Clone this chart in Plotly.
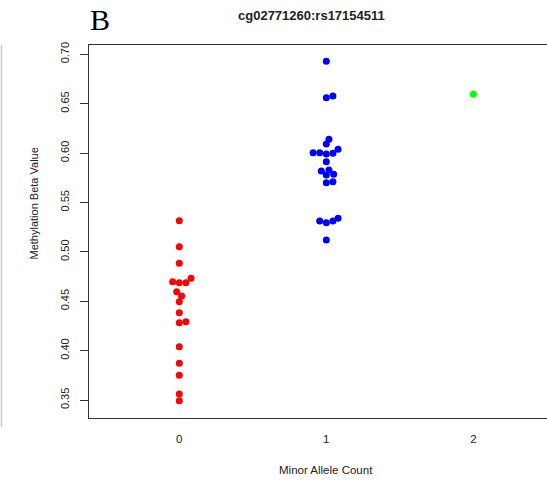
import plotly.graph_objects as go

# ---- data ----
group_labels = ["0", "1", "2"]
group_positions = [0, 1, 2]

red_beta = [0.5315, 0.5052, 0.4884, 0.4732, 0.4698, 0.4688, 0.4688, 0.4596, 0.4553,
            0.4495, 0.4384, 0.4283, 0.4293, 0.4040, 0.3872, 0.3750, 0.3561, 0.3493]
red_x = [0, 0, 0, 0.08, -0.045, 0, 0.045, -0.018, 0.016,
         0, 0, 0, 0.045, 0, 0, 0, 0, 0]

blue_beta = [0.6929, 0.6561, 0.6578, 0.6139, 0.6092, 0.6038, 0.5998, 0.5991, 0.6004, 0.6004,
             0.5913, 0.5818, 0.5829, 0.5778, 0.5785, 0.5700, 0.5710,
             0.5312, 0.5295, 0.5312, 0.5340, 0.5120]
blue_x = [1, 1, 1.045, 1.018, 1, 1.08, 1.045, 1, 0.955, 0.91,
          1, 0.966, 1.018, 1, 1.05, 1, 1.045,
          0.955, 1, 1.045, 1.08, 1]

green_beta = [0.6595]
green_x = [2]

y_ticks = [0.35, 0.40, 0.45, 0.50, 0.55, 0.60, 0.65, 0.70]
y_ticktext = ["0.35", "0.40", "0.45", "0.50", "0.55", "0.60", "0.65", "0.70"]

title_text = "cg02771260:rs17154511"
panel_letter = "B"
x_title = "Minor Allele Count"
y_title = "Methylation Beta Value"

# ---- layout geometry (pixels) ----
W, H = 547, 483
L, R, T, B = 89, 0, 45, 65
PW, PH = W - L - R, H - T - B


def px(x):
    return (x - L) / PW


def py(y):
    return (H - B - y) / PH


FONT = "Liberation Sans, Arial, sans-serif"
TXT = "#222222"

fig = go.Figure()
for xs, ys, col in [(red_x, red_beta, "#FF0000"),
                    (blue_x, blue_beta, "#0000FF"),
                    (green_x, green_beta, "#00FF00")]:
    fig.add_trace(go.Scatter(x=xs, y=ys, mode="markers",
                             marker=dict(color=col, size=7, line=dict(width=0)),
                             showlegend=False, hoverinfo="skip"))

fig.update_layout(
    width=W, height=H,
    margin=dict(l=L, r=R, t=T, b=B),
    paper_bgcolor="white", plot_bgcolor="white",
    showlegend=False,
    xaxis=dict(range=[-0.614, 2.501], tickvals=group_positions, ticktext=group_labels,
               showgrid=False, zeroline=False, showline=True, mirror=True,
               linecolor="#333333", linewidth=1.3, ticks="",
               tickfont=dict(family=FONT, size=11.5, color=TXT), ticklabelstandoff=10),
    yaxis=dict(range=[0.3318, 0.7094], tickvals=y_ticks, ticktext=y_ticktext,
               showgrid=False, zeroline=False, showline=True, mirror=False,
               linecolor="#333333", linewidth=1.3, ticks="outside", ticklen=8,
               tickcolor="#333333", tickwidth=1.2, tickangle=-90,
               tickfont=dict(family=FONT, size=11, color=TXT), ticklabelstandoff=6),
    annotations=[
        dict(text=title_text, xref="paper", yref="paper", x=px(311.7), y=py(16),
             xanchor="center", yanchor="middle", showarrow=False,
             font=dict(family=FONT, size=13, color=TXT, weight="bold")),
        dict(text=panel_letter, xref="paper", yref="paper", x=px(88), y=py(20),
             xanchor="left", yanchor="middle", showarrow=False,
             font=dict(family="Liberation Serif, Times New Roman, serif", size=30, color="black")),
        dict(text=x_title, xref="x", yref="paper", x=1, y=py(470),
             xanchor="center", yanchor="middle", showarrow=False,
             font=dict(family=FONT, size=11.5, color=TXT)),
        dict(text=y_title, xref="paper", yref="paper", x=px(33.5), y=py(204),
             xanchor="center", yanchor="middle", showarrow=False, textangle=-90,
             font=dict(family=FONT, size=11, color=TXT)),
    ],
    shapes=[
        dict(type="line", xref="paper", yref="paper", x0=px(1.5), x1=px(1.5),
             y0=py(45), y1=py(427), line=dict(color="#c8c8c8", width=1.5)),
    ],
)

fig.write_html("out.html")
